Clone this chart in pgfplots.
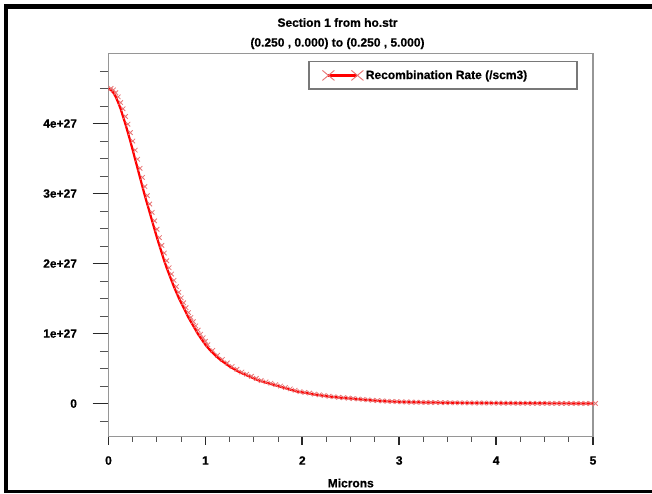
\documentclass[border=0pt]{standalone}
\usepackage{pgfplots}
\pgfplotsset{compat=1.18}
\usepackage{pgfplotstable}
\usepackage{fontspec}
\setmainfont{Liberation Sans}[FakeBold=0.6]
\definecolor{framegray}{RGB}{150,150,150}
\definecolor{tickdark}{RGB}{40,40,40}
\definecolor{markred}{RGB}{232,115,115}

\pgfplotstableread{
x y
0.000 4.50
0.025 4.48
0.050 4.44
0.075 4.38
0.100 4.30
0.125 4.21
0.150 4.10
0.175 3.99
0.200 3.87
0.225 3.75
0.250 3.62
0.275 3.49
0.300 3.36
0.325 3.23
0.350 3.10
0.375 2.97
0.400 2.85
0.425 2.73
0.450 2.61
0.475 2.49
0.500 2.37
0.525 2.26
0.550 2.15
0.575 2.04
0.600 1.94
0.625 1.85
0.650 1.76
0.675 1.67
0.700 1.59
0.725 1.51
0.750 1.44
0.775 1.37
0.800 1.30
0.825 1.23
0.850 1.17
0.875 1.11
0.900 1.05
0.925 0.99
0.950 0.94
0.975 0.89
1.000 0.84
1.050 0.76
1.100 0.69
1.150 0.63
1.200 0.58
1.250 0.53
1.300 0.49
1.350 0.45
1.400 0.42
1.450 0.39
1.500 0.36
1.550 0.33
1.600 0.31
1.650 0.29
1.700 0.27
1.750 0.25
1.800 0.23
1.850 0.21
1.900 0.19
1.950 0.17
2.000 0.16
2.050 0.15
2.100 0.135
2.150 0.125
2.200 0.115
2.250 0.105
2.300 0.097
2.350 0.090
2.400 0.084
2.450 0.078
2.500 0.072
2.550 0.066
2.600 0.060
2.650 0.054
2.700 0.048
2.750 0.043
2.800 0.038
2.850 0.034
2.900 0.031
2.950 0.028
3.000 0.025
3.050 0.023
3.100 0.021
3.150 0.020
3.200 0.018
3.250 0.017
3.300 0.016
3.350 0.015
3.400 0.014
3.450 0.013
3.500 0.012
3.550 0.011
3.600 0.011
3.650 0.010
3.700 0.010
3.750 0.009
3.800 0.009
3.850 0.008
3.900 0.008
3.950 0.007
4.000 0.007
4.050 0.006
4.100 0.006
4.150 0.006
4.200 0.005
4.250 0.005
4.300 0.005
4.350 0.004
4.400 0.004
4.450 0.004
4.500 0.004
4.550 0.003
4.600 0.003
4.650 0.003
4.700 0.003
4.750 0.003
4.800 0.002
4.850 0.002
4.900 0.002
4.950 0.002
5.000 0.002
}\rate

\begin{document}
\begin{tikzpicture}[x=1pt,y=1pt,font=\fontsize{12}{14}\selectfont\bfseries]
\path[fill=white,use as bounding box] (-108.5,-56.5) rectangle (543.5,436.5);
\fill[black] (-104.5,427.5) rectangle (543.5,432.5);
\fill[black] (-104.5,-56.5) rectangle (-100.5,432.5);
\fill[black] (-104.5,-56.5) rectangle (543.5,-53.5);

\node[anchor=center] at (229,414) {Section 1 from ho.str};
\node[anchor=center] at (229,393) {(0.250 , 0.000) to (0.250 , 5.000)};

% x ticks only
\begin{axis}[
  scale only axis, width=484.5pt, height=383pt,
  xmin=0, xmax=5, ymin=-0.47, ymax=5,
  axis line style={draw=none},
  tick align=outside, tick pos=left,
  xtick={0,1,2,3,4,5}, xticklabels={},
  minor xtick={0.25,0.5,0.75,1.25,1.5,1.75,2.25,2.5,2.75,3.25,3.5,3.75,4.25,4.5,4.75},
  ytick=\empty,
  major tick length=8pt, minor tick length=5pt,
  major tick style={line width=1.8pt, color=tickdark},
  minor tick style={line width=1pt, color=tickdark!80},
]
\end{axis}

\begin{axis}[
  scale only axis, width=484.5pt, height=383pt,
  xmin=0, xmax=5, ymin=-0.47, ymax=5,
  axis line style={draw=framegray, line width=1.3pt},
  tick align=outside, tick pos=left,
  xtick={0,1,2,3,4,5}, xticklabels={0,1,2,3,4,5},
  xtick style={draw=none},
  ytick={0,1,2,3,4}, yticklabels={0,1e+27,2e+27,3e+27,4e+27},
  minor ytick={-0.25,0.25,0.5,0.75,1.25,1.5,1.75,2.25,2.5,2.75,3.25,3.5,3.75,4.25,4.5,4.75},
  major tick length=16pt, minor tick length=8.7pt,
  major tick style={line width=1.8pt, color=tickdark},
  minor tick style={line width=1pt, color=tickdark!80},
  xticklabel style={anchor=center, yshift=-8pt},
  yticklabel style={anchor=east, xshift=-12pt},
  xlabel={Microns},
  x label style={at={(axis description cs:0.5,0)}, anchor=center, yshift=-46.5pt},
  legend style={at={(rel axis cs:0.968,0.980)}, anchor=north east,
    draw=framegray!80!black, line width=1.3pt, fill=white,
    inner xsep=13pt, inner ysep=6.5pt},
  legend cell align=left,
  legend image code/.code={
    \draw[red, line width=2.2pt] (6pt,0pt) -- (35pt,0pt);
    \draw[markred, line width=0.9pt] (0pt,-5pt) -- (12pt,5pt) (0pt,5pt) -- (12pt,-5pt)
      (29pt,-5pt) -- (41pt,5pt) (29pt,5pt) -- (41pt,-5pt);
  },
]
\addplot[only marks, mark=x, mark size=3.2pt, mark options={draw=markred, line width=0.8pt, xshift=2.5pt}, forget plot] table[x=x,y=y] {\rate};
\addplot[red, line width=2.2pt, no marks] table[x=x,y=y] {\rate};
\addlegendentry{\makebox[196pt][l]{Recombination Rate (/scm3)}}
\end{axis}
\end{tikzpicture}
\end{document}
